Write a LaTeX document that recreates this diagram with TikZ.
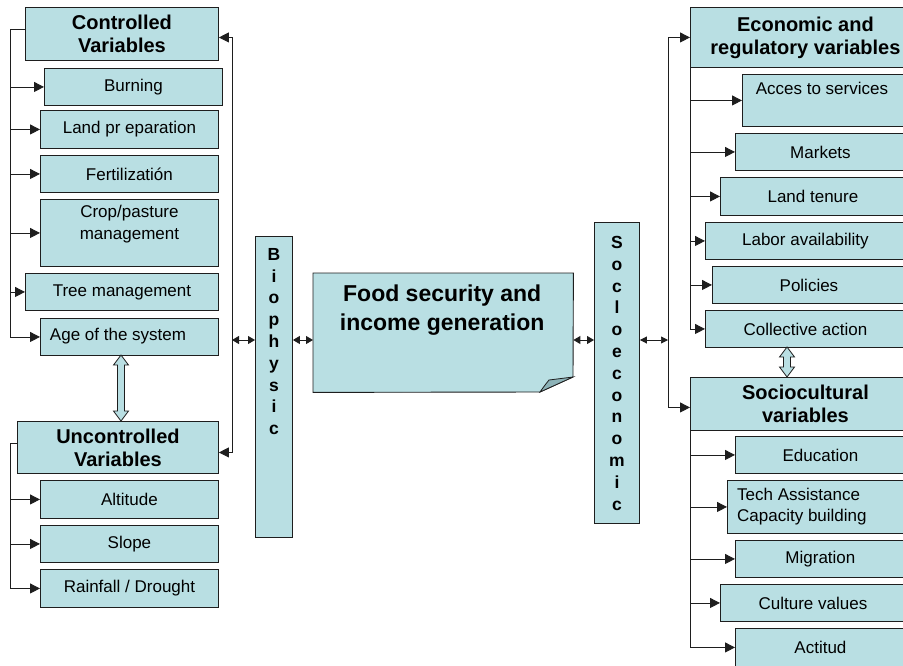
\documentclass[tikz,border=0pt]{standalone}
\usepackage{fontspec}
\setmainfont{Liberation Sans}
\usetikzlibrary{arrows.meta,calc}
\definecolor{boxfill}{RGB}{185,223,227}
\definecolor{foldfill}{RGB}{140,178,183}
\definecolor{linecol}{RGB}{30,30,30}
\newcommand{\mybox}[7]{\node[#6, minimum width={#4-#2}, minimum height={#5-#3}] (#1) at (#2,#3) {#7};}
\newcommand{\hollowarrow}[3]{\filldraw[draw=linecol, fill=boxfill, line width=0.8pt] (#1,#2) -- ++(7.5,10) -- ++(-4,0) -- (#1+3.5,#3-10) -- ++(4,0) -- (#1,#3) -- ++(-7.5,-10) -- ++(4,0) -- (#1-3.5,#2+10) -- ++(-4,0) -- cycle;}
\begin{document}
\begin{tikzpicture}[x=1pt,y=-1pt,
 box/.style={draw=linecol, line width=0.9pt, fill=boxfill, inner sep=0pt, font=\fontsize{17}{21}\selectfont, align=center, anchor=north west},
 title/.style={box, font=\fontsize{20}{23}\selectfont\bfseries},
 lbl/.style={font=\fontsize{17}{21}\selectfont, inner sep=0pt},
 vert/.style={font=\fontsize{17.5}{21.8}\selectfont\bfseries, inner sep=0pt, align=center, anchor=north},
 wire/.style={draw=linecol, line width=0.9pt},
 arr/.style={wire, -{Triangle[length=10pt,width=10pt]}},
 darr/.style={wire, {Triangle[length=7pt,width=8pt]}-{Triangle[length=7pt,width=8pt]}},
 tarr/.style={wire, line width=0.7pt, {Triangle[length=7pt,width=7pt]}-{Triangle[length=7pt,width=7pt]}},
]
\clip (0,0) rectangle (903,665);
\useasboundingbox (0,0) rectangle (903,665);
% left column
\mybox{ctrl}{25}{7}{218}{60}{title}{Controlled\\Variables}
\mybox{burn}{44}{68}{222}{105}{box}{Burning}
\mybox{land}{40}{110}{218}{148}{box}{Land pr eparation}
\mybox{fert}{40}{155}{218}{192}{box}{Fertilizatión}
\mybox{crop}{40}{199}{218}{266}{box}{}
\node[lbl, align=center, anchor=north] at ([yshift=-6pt]crop.north) {Crop/pasture\\[1pt]management};
\mybox{tree}{25}{273}{218}{310}{box}{Tree management}
\mybox{age}{40}{318}{218}{355}{box}{}
\node[lbl] at (118,336) {Age of the system};
\mybox{unctrl}{17}{421}{218}{473}{title}{Uncontrolled\\Variables}
\mybox{alt}{40}{480}{218}{518}{box}{Altitude}
\mybox{slope}{40}{525}{218}{562}{box}{Slope}
\mybox{rain}{40}{569}{218}{607}{box}{Rainfall / Drought}
\hollowarrow{121}{355}{421}
% left buses
\coordinate (lx) at (10,0);
\draw[wire] ([yshift=4.5pt]ctrl.west) -| (lx |- age.west);
\foreach \n in {burn,land,fert,crop,tree,age} \draw[arr] (lx |- \n.west) -- (\n.west);
\draw[wire] ([yshift=4pt]unctrl.west) -| (lx |- rain.west);
\foreach \n in {alt,slope,rain} \draw[arr] (lx |- \n.west) -- (\n.west);
\coordinate (lj) at (232,340);
\draw[arr] (lj) |- ([yshift=-3.5pt]ctrl.east);
\draw[arr] (lj) |- ([yshift=-5pt]unctrl.east);
% centre
\mybox{bio}{255}{236}{292}{537}{box}{}
\node[vert] at ([yshift=-12pt]bio.north) {B\\i\\o\\p\\h\\y\\s\\i\\c};
\node[minimum width=260, minimum height=119, inner sep=0pt, anchor=north west] (food) at (313,273) {};
\filldraw[draw=linecol, fill=boxfill, line width=0.9pt] (food.north west) -- (food.north east) -- (573,377) -- (540,392) -- (food.south west) -- cycle;
\filldraw[draw=linecol, fill=foldfill, line width=0.8pt] (540,392) .. controls (545,385) .. (549,380) -- (573,377) -- cycle;
\node[anchor=north, align=center, inner sep=0pt, font=\fontsize{23}{29}\selectfont\bfseries] at ([yshift=-12pt,xshift=-1pt]food.north) {Food security and\\income generation};
\mybox{socio}{594}{222}{639}{523}{box}{}
\node[vert] at ([yshift=-14pt]socio.north) {S\\o\\c\\l\\o\\e\\c\\o\\n\\o\\m\\i\\c};
\draw[darr] (lj) -- (lj -| bio.west);
\draw[darr] (bio.east |- lj) -- (food.west |- lj);
\draw[darr] (food.east |- lj) -- (socio.west |- lj);
\coordinate (rj) at (668,340);
\draw[tarr] (socio.east |- rj) -- (rj);
% right column
\mybox{econ}{690}{7}{920}{67}{title}{Economic and\\regulatory variables}
\mybox{acc}{742}{74}{905}{126}{box}{}
\node[lbl, anchor=north] at ([yshift=-8pt,xshift=-2pt]acc.north) {Acces to services};
\mybox{mkt}{735}{133}{905}{170}{box}{Markets}
\mybox{ten}{720}{177}{905}{215}{box}{Land tenure}
\mybox{lab}{705}{222}{905}{259}{box}{Labor availability}
\mybox{pol}{712}{266}{905}{303}{box}{Policies}
\mybox{coll}{705}{310}{905}{347}{box}{Collective action}
\hollowarrow{787}{347}{377}
\mybox{soc}{690}{377}{920}{430}{title}{Sociocultural\\variables}
\mybox{edu}{735}{436}{905}{473}{box}{Education}
\mybox{tech}{727}{480}{905}{533}{box}{}
\node[lbl, align=left, anchor=west] at (737,507) {Tech Assistance\\Capacity building};
\mybox{mig}{735}{540}{905}{577}{box}{Migration}
\mybox{cult}{720}{584}{905}{621}{box}{Culture values}
\mybox{act}{735}{628}{905}{666}{box}{Actitud}
% right buses
\draw[arr] (rj) |- (econ.west);
\draw[arr] (rj) |- ([yshift=-3.5pt]soc.west);
\draw[wire] (econ.south west) -- (econ.south west |- coll.west);
\foreach \n in {acc,mkt,ten,lab,pol,coll} \draw[arr] (econ.south west |- \n.west) -- (\n.west);
\draw[wire] (soc.south west) -- (soc.south west |- act.west);
\foreach \n in {edu,tech,mig,cult,act} \draw[arr] (soc.south west |- \n.west) -- (\n.west);
\end{tikzpicture}
\end{document}
